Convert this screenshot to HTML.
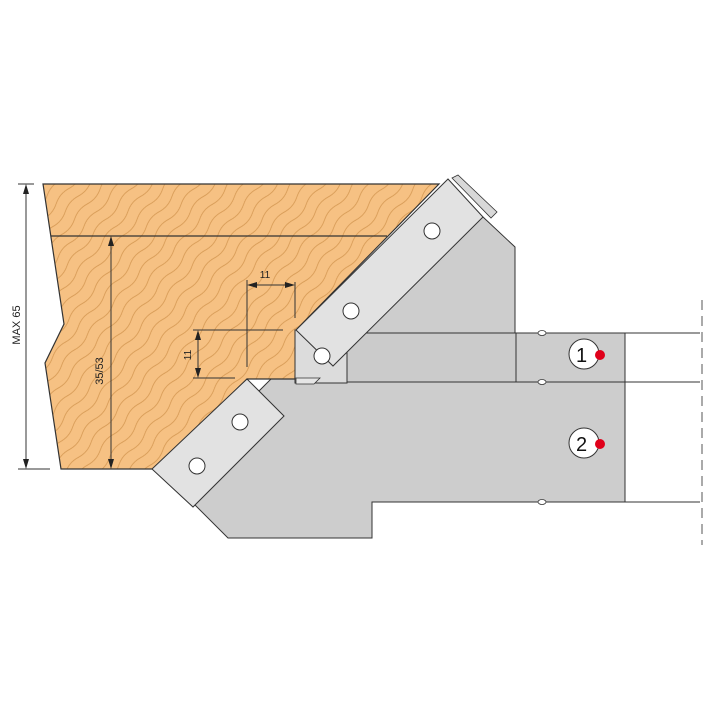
<!DOCTYPE html>
<html><head><meta charset="utf-8"><style>html,body{margin:0;padding:0;background:#fff}svg{display:block}</style></head><body>
<svg width="720" height="720" viewBox="0 0 720 720" xmlns="http://www.w3.org/2000/svg" font-family="Liberation Sans, sans-serif">
<defs>
<pattern id="wood" width="40" height="12" patternUnits="userSpaceOnUse" patternTransform="rotate(-50)">
<rect width="40" height="12" fill="#f6c183"/>
<path d="M0 6 Q10 2 20 6 T40 6" fill="none" stroke="#d39650" stroke-width="0.8"/>
</pattern>
</defs>
<!-- body -->
<polygon points="483,217 515,247 515,333 625,333 625,502 372,502 372,538 228,538 170,480 300,350 450,200" fill="#cdcdcd" stroke="#333" stroke-width="1"/>
<!-- hub lighter band area -->
<rect x="347" y="333" width="169" height="49" fill="#cbcbcb" stroke="#333" stroke-width="1"/>
<rect x="516" y="333" width="109" height="49" fill="#cdcdcd" stroke="#333" stroke-width="1"/>
<!-- right lines -->
<line x1="625" y1="333" x2="700" y2="333" stroke="#333"/>
<line x1="625" y1="382" x2="700" y2="382" stroke="#333"/>
<line x1="625" y1="502" x2="700" y2="502" stroke="#333"/>
<line x1="702" y1="300" x2="702" y2="545" stroke="#555" stroke-dasharray="10,6"/>
<!-- notches -->
<g fill="#fff" stroke="#333" stroke-width="0.8">
<ellipse cx="542" cy="333" rx="4" ry="2.5"/><ellipse cx="542" cy="382" rx="4" ry="2.5"/><ellipse cx="542" cy="502" rx="4" ry="2.5"/>
</g>
<!-- wood -->
<polygon points="43,184 439,184 296,330 295,379 247,379 155,469 61,469 45,363 64,324" fill="url(#wood)" stroke="#333" stroke-width="1.2"/>
<line x1="51" y1="236" x2="387" y2="236" stroke="#333" stroke-width="1.2"/>
<!-- small square -->
<rect x="295" y="330" width="52" height="53" fill="#dcdcdc" stroke="#333" stroke-width="1"/>
<polygon points="296,378 320,378 314,384 296,384" fill="#e6e6e6" stroke="#333" stroke-width="0.8"/>
<!-- upper insert -->
<polygon points="296,330 448,179 483,217 333,366" fill="#e2e2e2" stroke="#333" stroke-width="1"/>
<polygon points="452,178 458,175 497,212 491,218" fill="#d8d8d8" stroke="#333" stroke-width="0.8"/>
<!-- lower insert -->
<polygon points="152,469 247,379 284,416 193,507" fill="#e2e2e2" stroke="#333" stroke-width="1"/>
<g fill="#fff" stroke="#333" stroke-width="1">
<circle cx="432" cy="231" r="8"/><circle cx="351" cy="311" r="8"/><circle cx="322" cy="356" r="8"/>
<circle cx="240" cy="422" r="8"/><circle cx="197" cy="466" r="8"/>
</g>
<!-- labels 1 2 -->
<g fill="#fff" stroke="#333" stroke-width="1">
<circle cx="584" cy="354" r="15"/><circle cx="584" cy="443" r="15"/>
</g>
<text x="576" y="362" font-size="20" fill="#111">1</text>
<text x="576" y="451" font-size="20" fill="#111">2</text>
<circle cx="600" cy="355" r="5" fill="#e0001a"/>
<circle cx="600" cy="444" r="5" fill="#e0001a"/>
<!-- dimensions -->
<g stroke="#333" stroke-width="1" fill="none">
<line x1="18" y1="184" x2="34" y2="184"/><line x1="18" y1="469" x2="50" y2="469"/>
<line x1="26" y1="188" x2="26" y2="465"/>
<line x1="111" y1="240" x2="111" y2="465"/>
<line x1="247" y1="280" x2="247" y2="367"/><line x1="295" y1="282" x2="295" y2="318"/>
<line x1="251" y1="285" x2="291" y2="285"/>
<line x1="193" y1="330" x2="283" y2="330"/><line x1="193" y1="378" x2="235" y2="378"/>
<line x1="198" y1="334" x2="198" y2="374"/>
</g>
<g fill="#222">
<polygon points="26,184 23,194 29,194"/><polygon points="26,469 23,459 29,459"/>
<polygon points="111,236 108,246 114,246"/><polygon points="111,469 108,459 114,459"/>
<polygon points="247,285 257,282 257,288"/><polygon points="295,285 285,282 285,288"/>
<polygon points="198,330 195,340 201,340"/><polygon points="198,378 195,368 201,368"/>
</g>
<text transform="translate(20,325) rotate(-90)" font-size="11" text-anchor="middle" fill="#222">MAX 65</text>
<text transform="translate(103,371) rotate(-90)" font-size="11" text-anchor="middle" fill="#222">35/53</text>
<text x="265" y="278" font-size="10" text-anchor="middle" fill="#222">11</text>
<text transform="translate(191,355) rotate(-90)" font-size="10" text-anchor="middle" fill="#222">11</text>
</svg>
</body></html>
